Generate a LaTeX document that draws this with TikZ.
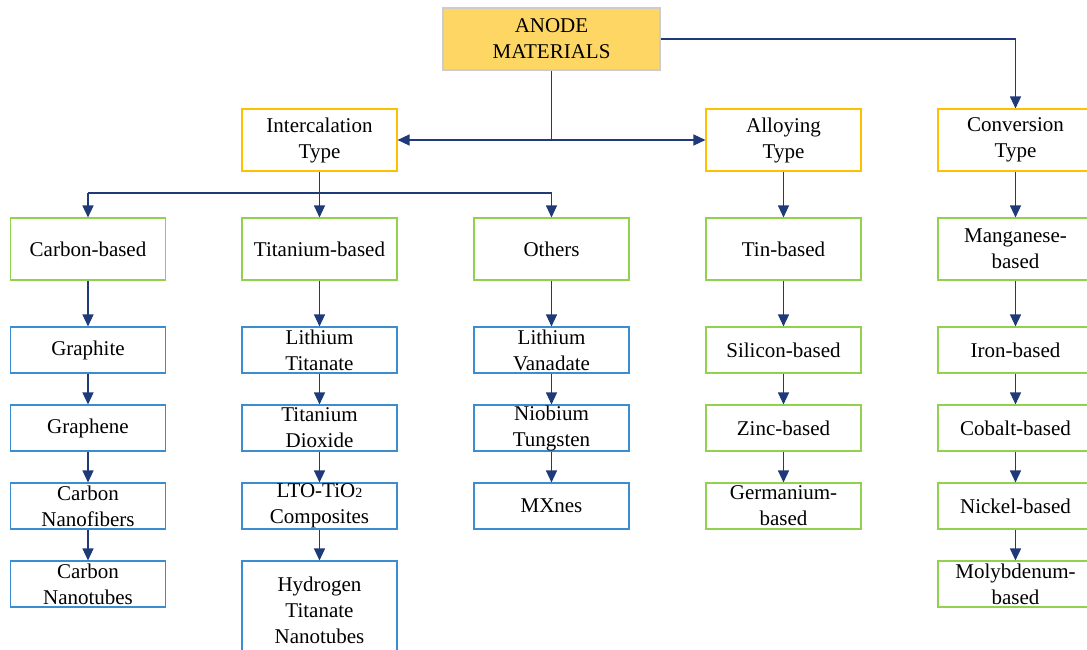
\documentclass[tikz,border=0pt]{standalone}
\usepackage{fontspec}
\setmainfont{Liberation Serif}
\usetikzlibrary{arrows.meta}
\definecolor{navy}{HTML}{1F3A78}
\definecolor{headfill}{HTML}{FDD663}
\definecolor{orangeb}{HTML}{FFC000}
\definecolor{greenb}{HTML}{92D050}
\definecolor{blueb}{HTML}{3C8DD0}
\tikzset{
  base/.style={draw, line width=1.1pt, align=center, inner sep=0pt, minimum width=155pt, font=\fontsize{21}{26}\selectfont},
  headbox/.style={base, draw=black!20, fill=headfill, minimum width=217pt, minimum height=62pt},
  typebox/.style={base, draw=orangeb, minimum height=62pt},
  grbig/.style={base, draw=greenb, minimum height=62pt},
  grsmall/.style={base, draw=greenb, minimum height=46pt},
  blsmall/.style={base, draw=blueb, minimum height=46pt},
  conn/.style={draw=navy, line width=1.3pt},
  arr/.style={conn, -{Triangle[width=11pt,length=12pt]}},
  darr/.style={conn, {Triangle[width=11pt,length=12pt]}-{Triangle[width=11pt,length=12pt]}}
}
\begin{document}
\begin{tikzpicture}[x=1pt,y=-1pt]
\useasboundingbox (0,0) rectangle (1087,650);
% top
\node[headbox] (anode) at (551.5,39) {ANODE\\MATERIALS};
\node[typebox] (int) at (319.5,140) {Intercalation\\Type};
\node[typebox] (allo) at (783.5,140) {Alloying\\Type};
\node[typebox] (conv) at (1015.5,140) {Conversion\\Type};
% level 2
\node[grbig] (carb) at (88,249) {Carbon-based};
\node[grbig] (tita) at (319.5,249) {Titanium-based};
\node[grbig] (oth) at (551.5,249) {Others};
\node[grbig] (tin) at (783.5,249) {Tin-based};
\node[grbig] (mang) at (1015.5,249) {Manganese-\\based};
% column 1
\node[blsmall] (c1) at (88,350) {Graphite};
\node[blsmall] (c2) at (88,428) {Graphene};
\node[blsmall] (c3) at (88,506) {Carbon\\Nanofibers};
\node[blsmall] (c4) at (88,584) {Carbon\\Nanotubes};
% column 2
\node[blsmall] (t1) at (319.5,350) {Lithium\\Titanate};
\node[blsmall] (t2) at (319.5,428) {Titanium\\Dioxide};
\node[blsmall] (t3) at (319.5,506) {LTO-TiO{\fontsize{14}{14}\selectfont 2}\\Composites};
\node[base, draw=blueb, minimum height=98pt] (t4) at (319.5,610) {Hydrogen\\Titanate\\Nanotubes};
% column 3
\node[blsmall] (o1) at (551.5,350) {Lithium\\Vanadate};
\node[blsmall] (o2) at (551.5,428) {Niobium\\Tungsten};
\node[blsmall] (o3) at (551.5,506) {MXnes};
% column 4
\node[grsmall] (s1) at (783.5,350) {Silicon-based};
\node[grsmall] (s2) at (783.5,428) {Zinc-based};
\node[grsmall] (s3) at (783.5,506) {Germanium-\\based};
% column 5
\node[grsmall] (m1) at (1015.5,350) {Iron-based};
\node[grsmall] (m2) at (1015.5,428) {Cobalt-based};
\node[grsmall] (m3) at (1015.5,506) {Nickel-based};
\node[grsmall] (m4) at (1015.5,584) {Molybdenum-\\based};
% connectors
\coordinate (j1) at (anode.south |- int.east);
\draw[conn] (anode.south) -- (j1);
\draw[darr] (int.east) -- (allo.west);
\draw[arr] (anode.east) -| (conv.north);
\coordinate (j2) at (319.5,193);
\draw[conn] (int.south) -- (j2);
\draw[conn] (carb.north |- j2) -- (oth.north |- j2);
\draw[arr] (carb.north |- j2) -- (carb.north);
\draw[arr] (j2) -- (tita.north);
\draw[arr] (oth.north |- j2) -- (oth.north);
\draw[arr] (allo.south) -- (tin.north);
\draw[arr] (conv.south) -- (mang.north);
\foreach \a/\b in {carb/c1,c1/c2,c2/c3,c3/c4,tita/t1,t1/t2,t2/t3,t3/t4,oth/o1,o1/o2,o2/o3,tin/s1,s1/s2,s2/s3,mang/m1,m1/m2,m2/m3,m3/m4}
  \draw[arr] (\a.south) -- (\b.north);
\end{tikzpicture}
\end{document}
